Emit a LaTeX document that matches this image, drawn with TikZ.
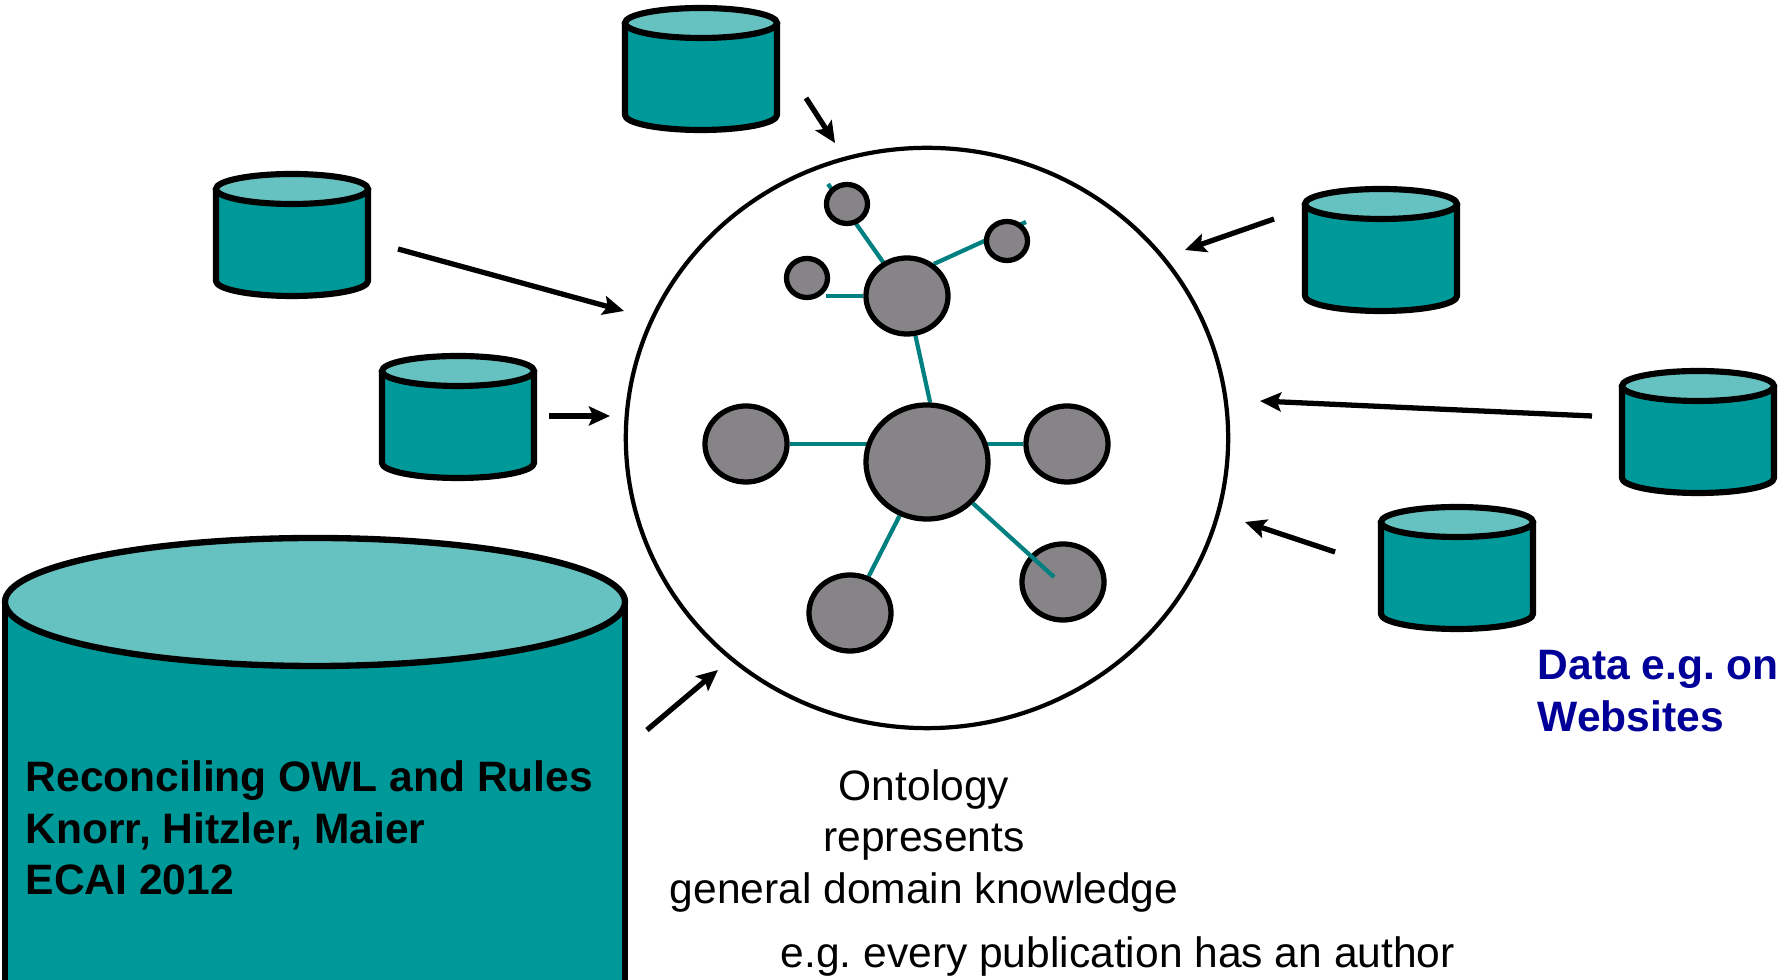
\documentclass[tikz,border=0pt]{standalone}
\usepackage{fontspec}
\setmainfont{Liberation Sans}
\usetikzlibrary{arrows.meta,shapes.geometric,backgrounds}
\frenchspacing

\definecolor{cylbody}{HTML}{009999}
\definecolor{cyltop}{HTML}{66C1C1}
\definecolor{linkteal}{HTML}{008080}
\definecolor{conceptgray}{HTML}{868487}
\definecolor{datablue}{HTML}{000099}

\tikzset{
  concept/.style={draw=black,line width=1.5pt,fill=conceptgray,ellipse,inner sep=0pt},
  bigconcept/.style={concept,minimum width=0.82cm,minimum height=0.76cm},
  smallconcept/.style={concept,minimum width=0.41cm,minimum height=0.39cm},
  link/.style={draw=linkteal,line width=1.2pt},
  feed/.style={line width=1.5pt,-{Stealth[length=2.1mm,width=1.9mm,inset=0.4mm]}},
  label/.style={inner sep=0pt,font=\fontsize{12.1}{14.7}\selectfont},
  smalldb/.pic={
    \draw[fill=cylbody,line width=1.75pt,line join=round] (-76,0) -- (-76,92)
      arc[start angle=180,end angle=0,x radius=76,y radius=15] -- (76,0) -- cycle;
    \draw[fill=cyltop,line width=1.75pt] (0,0) ellipse [x radius=76,y radius=15];
  }
}

\begin{document}
\begin{tikzpicture}[x=0.01cm,y=-0.01cm]
  \useasboundingbox (0,0) rectangle (1787,980);

  %big cylinder
  \draw[fill=cylbody,line width=1.8pt] (5,602) -- (5,995) -- (625,995) -- (625,602) -- cycle;
  \draw[fill=cyltop,line width=1.8pt] (315,602) ellipse [x radius=310,y radius=64];
  \node[label,anchor=west,align=left,font=\fontsize{12.1}{14.7}\selectfont\bfseries] (paper) at (25,828)
    {Reconciling OWL and Rules\\Knorr, Hitzler, Maier\\ECAI 2012};

  %small cylinders
  \pic at (701,23) {smalldb};
  \pic at (292,189) {smalldb};
  \pic at (458,371) {smalldb};
  \pic at (1381,204) {smalldb};
  \pic at (1698,386) {smalldb};
  \pic at (1457,522) {smalldb};

  %ontology
  \node[draw=black,line width=1.2pt,ellipse,inner sep=0pt,minimum width=6.02cm,minimum height=5.8cm] (ontology) at (927,438) {};

  \node[bigconcept,minimum width=1.22cm,minimum height=1.14cm] (central) at (927,462) {};
  \node[bigconcept] (mid) at (907,296) {};
  \node[bigconcept] (left) at (746,444) {};
  \node[bigconcept] (right) at (1067,444) {};
  \node[bigconcept] (lowleft) at (850,613) {};
  \node[bigconcept] (lowright) at (1063,582) {};
  \node[smallconcept] (topleft) at (847,204) {};
  \node[smallconcept] (topright) at (1007,241) {};
  \node[smallconcept] (sideleft) at (807,278) {};

  \coordinate (stubA) at (828,184);
  \coordinate (stubB) at (1026,222);
  \coordinate (stubC) at (826,296);
  \coordinate (stubD) at (1054,577);

  \begin{pgfonlayer}{background}
    \draw[link] (left) -- (left -| central);
    \draw[link] (right) -- (right -| central);
    \draw[link] (central) -- (lowleft);
    \draw[link] (central.87) -- (mid.-78);
    \draw[link] (mid) -- (stubA);
    \draw[link] (mid.50) -- (stubB);
    \draw[link] (mid) -- (stubC);
  \end{pgfonlayer}
  \draw[link] (central.-42) -- (stubD);

  %arrows
  \coordinate (fromtop) at (806,98);
  \coordinate (totop) at (835,143);
  \coordinate (fromleftA) at (398,249);
  \coordinate (toleftA) at (624,311);
  \coordinate (fromleftB) at (549,416);
  \coordinate (toleftB) at (610,416);
  \coordinate (frompaper) at (647,730);
  \coordinate (topaper) at (718,670);
  \coordinate (fromrightA) at (1274,219);
  \coordinate (torightA) at (1185,250);
  \coordinate (fromrightB) at (1592,416);
  \coordinate (torightB) at (1260,401);
  \coordinate (fromrightC) at (1335,552);
  \coordinate (torightC) at (1245,522);
  \draw[feed] (fromtop) -- (totop);
  \draw[feed] (fromleftA) -- (toleftA);
  \draw[feed] (fromleftB) -- (toleftB);
  \draw[feed] (frompaper) -- (topaper);
  \draw[feed] (fromrightA) -- (torightA);
  \draw[feed] (fromrightB) -- (torightB);
  \draw[feed] (fromrightC) -- (torightC);

  %labels
  \node[label,anchor=west,align=left,text=datablue,font=\fontsize{12.1}{14.7}\selectfont\bfseries] (data) at (1537,691)
    {Data e.g. on\\Websites};
  \node[label,align=center] (domain) at (924,841)
    {Ontology\\represents\\general domain knowledge};
  \node[label,anchor=base west] (example) at (780,968) {e.g. every publication has an author};
\end{tikzpicture}
\end{document}
